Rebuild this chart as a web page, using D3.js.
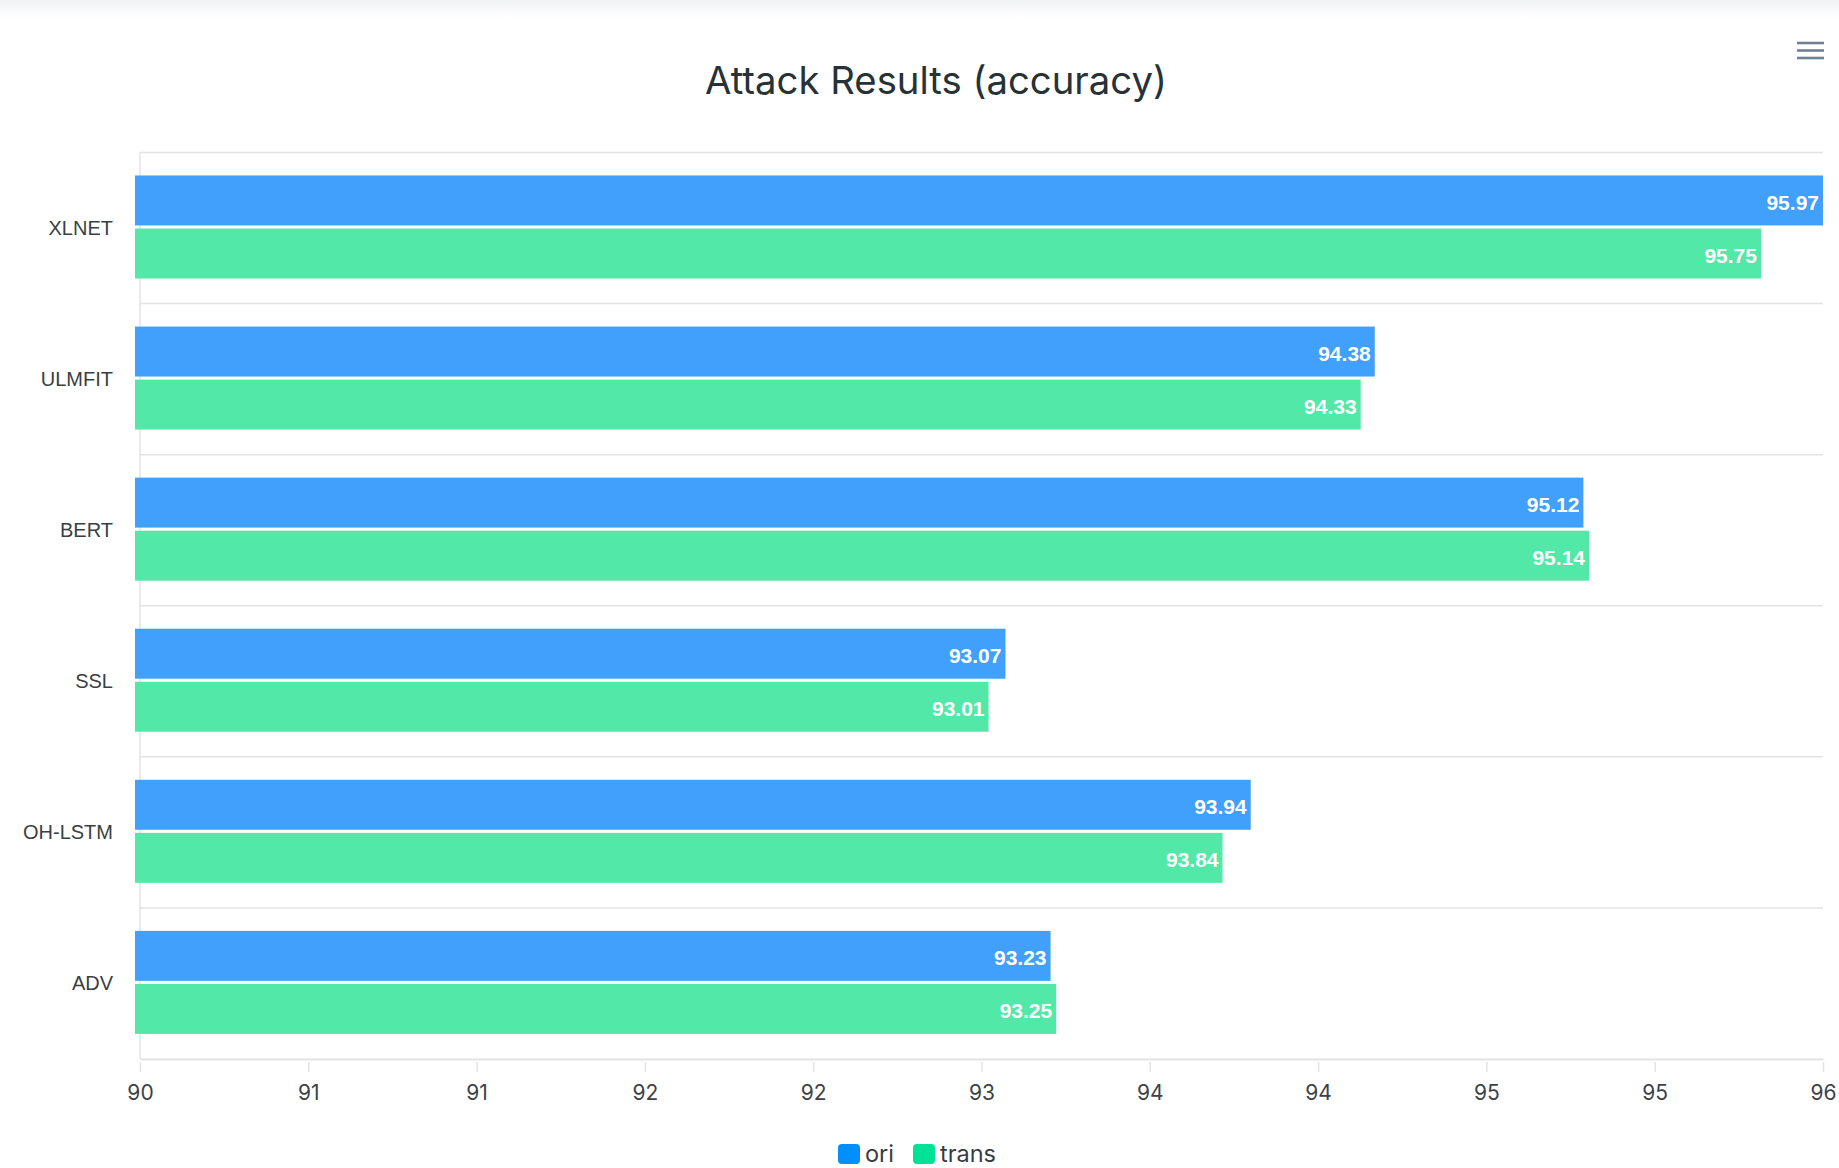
<!DOCTYPE html>
<html>
<head>
<meta charset="utf-8">
<script src="https://cdn.jsdelivr.net/npm/d3@7"></script>
<style>
  html, body { margin: 0; padding: 0; background: #fff; }
  svg { display: block; }
</style>
</head>
<body>
<svg id="chart"></svg>
<script>
// Chart data
const categories = ['XLNET', 'ULMFIT', 'BERT', 'SSL', 'OH-LSTM', 'ADV'];
const seriesNames = ['ori', 'trans'];
const oriValues = [95.97, 94.38, 95.12, 93.07, 93.94, 93.23];
const transValues = [95.75, 94.33, 95.14, 93.01, 93.84, 93.25];
const tickLabels = ['90', '91', '91', '92', '92', '93', '94', '94', '95', '95', '96'];
const axisMin = 90;
const axisMax = 95.97;

const W = 1839, H = 1168;
const barColors = ['#40a0fb', '#52e8a7'];
const legendColors = ['#008ffb', '#00e396'];
const titleFont = 'Inter, "Noto Sans", sans-serif';
const labelFont = '"Liberation Sans", Arial, sans-serif';

const svg = d3.select('#chart').attr('width', W).attr('height', H);

// faint band at the very top of the page
const defs = svg.append('defs');
const grad = defs.append('linearGradient').attr('id', 'topfade')
  .attr('x1', 0).attr('y1', 0).attr('x2', 0).attr('y2', 1);
grad.append('stop').attr('offset', '0%').attr('stop-color', '#f1f2f5');
grad.append('stop').attr('offset', '100%').attr('stop-color', '#ffffff');
svg.append('rect').attr('x', 0).attr('y', 0).attr('width', W).attr('height', 18)
  .attr('fill', 'url(#topfade)');

// Scales
const plot = { left: 140, right: 1823, top: 152.5, bottom: 1059 };
const xScale = d3.scaleLinear().domain([axisMin, axisMax]).range([plot.left, plot.right]);
const yScale = d3.scaleBand().domain(categories).range([plot.top, plot.bottom]).paddingInner(0);
const band = yScale.bandwidth();
const innerScale = d3.scaleBand().domain(seriesNames)
  .range([band * 0.152, band * 0.834]).paddingInner(0.058);

// Grid lines between categories
const grid = svg.append('g');
grid.selectAll('line.h')
  .data(categories)
  .enter()
  .append('line')
    .attr('x1', plot.left)
    .attr('x2', plot.right)
    .attr('y1', (d) => yScale(d))
    .attr('y2', (d) => yScale(d))
    .attr('stroke', '#e3e3e3')
    .attr('stroke-width', 1.5);
grid.append('line')
  .attr('x1', plot.left).attr('x2', plot.left)
  .attr('y1', plot.top).attr('y2', plot.bottom)
  .attr('stroke', '#e3e3e3').attr('stroke-width', 1.5);

// X axis
const tickValues = tickLabels.map((s, i) => axisMin + i * (axisMax - axisMin) / (tickLabels.length - 1));
const xAxis = svg.append('g')
  .attr('transform', `translate(0, ${plot.bottom})`)
  .call(d3.axisBottom(xScale)
    .tickValues(tickValues)
    .tickSize(13)
    .tickSizeOuter(0)
    .tickPadding(13)
    .tickFormat((d, i) => tickLabels[i]));
xAxis.select('.domain').attr('stroke', '#e3e3e3').attr('stroke-width', 2);
xAxis.selectAll('.tick line').attr('stroke', '#e3e3e3').attr('stroke-width', 1.5)
  .attr('y1', 3);
xAxis.selectAll('.tick text')
  .attr('fill', '#3d4246')
  .attr('font-family', titleFont)
  .attr('font-size', 21);

// Y axis labels
svg.append('g')
  .selectAll('text')
  .data(categories)
  .enter()
  .append('text')
    .attr('x', 113)
    .attr('y', (d) => yScale(d) + band / 2)
    .attr('dy', '0.35em')
    .attr('text-anchor', 'end')
    .attr('fill', '#3a3f42')
    .attr('font-family', labelFont)
    .attr('font-size', 20)
    .text((d) => d);

// Bars
const rows = categories.map((c, i) => ({ cat: c, values: [oriValues[i], transValues[i]] }));
const groups = svg.append('g')
  .selectAll('g')
  .data(rows)
  .enter()
  .append('g')
    .attr('transform', (d) => `translate(0, ${yScale(d.cat)})`);

const bars = groups.selectAll('g')
  .data((d) => d.values.map((v, j) => ({ name: seriesNames[j], v: v, j: j })))
  .enter()
  .append('g');

bars.append('rect')
  .attr('x', xScale(axisMin) - 5)
  .attr('y', (d) => innerScale(d.name))
  .attr('width', (d) => xScale(d.v) - xScale(axisMin) + 5)
  .attr('height', innerScale.bandwidth())
  .attr('fill', (d) => barColors[d.j]);

bars.append('text')
  .attr('x', (d) => xScale(d.v) - 4)
  .attr('y', (d) => innerScale(d.name) + innerScale.bandwidth() / 2 + 2)
  .attr('dy', '0.36em')
  .attr('text-anchor', 'end')
  .attr('fill', '#fff')
  .attr('font-family', labelFont)
  .attr('font-weight', 'bold')
  .attr('font-size', 21)
  .text((d) => d.v.toFixed(2));

// Title, fitted to the reference width
const title = svg.append('text')
  .attr('x', 936)
  .attr('y', 94)
  .attr('text-anchor', 'middle')
  .attr('fill', '#263238')
  .attr('font-family', titleFont)
  .attr('font-size', 40)
  .text('Attack Results (accuracy)');
const tl = title.node().getComputedTextLength();
title.attr('font-size', 40 * 462 / tl);

// Legend
const legend = svg.append('g').attr('transform', 'translate(838, 1144)');
const legendX = [0, 75];
const item = legend.selectAll('g')
  .data(seriesNames)
  .enter()
  .append('g')
    .attr('transform', (d, i) => `translate(${legendX[i]}, 0)`);
item.append('rect')
  .attr('width', 22).attr('height', 20).attr('rx', 4).attr('ry', 4)
  .attr('fill', (d, i) => legendColors[i]);
item.append('text')
  .attr('x', 27).attr('y', 10).attr('dy', '0.35em')
  .attr('fill', '#373d3f')
  .attr('font-family', titleFont)
  .attr('font-size', 23.5)
  .text((d) => d);

// Menu icon
svg.append('g')
  .selectAll('line')
  .data([43, 50.5, 58])
  .enter()
  .append('line')
    .attr('x1', 1797).attr('x2', 1824)
    .attr('y1', (d) => d).attr('y2', (d) => d)
    .attr('stroke', '#6e8192').attr('stroke-width', 2.6);
</script>
</body>
</html>
